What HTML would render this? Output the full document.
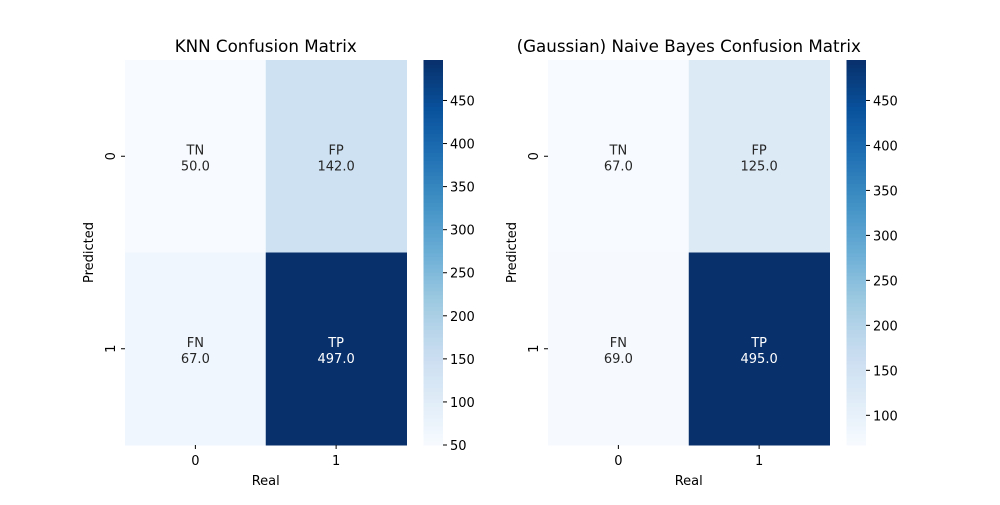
<!DOCTYPE html>
<html><head><meta charset="utf-8"><style>
body{margin:0;background:#fff;}
svg{font-family:"DejaVu Sans","Liberation Sans",sans-serif;}
</style></head><body>
<svg id="s" width="1000" height="500"></svg>
<script>
const labels=[["TN","FP"],["FN","TP"]];
const knnValues=[[50,142],[67,497]];
const nbValues=[[67,125],[69,495]];
const knnTicks=[50,100,150,200,250,300,350,400,450];
const nbTicks=[100,150,200,250,300,350,400,450];
const titles=["KNN Confusion Matrix","(Gaussian) Naive Bayes Confusion Matrix"];
const stops=["#f7fbff","#deebf7","#c6dbef","#9ecae1","#6baed6","#4292c6","#2171b5","#08519c","#08306b"];
function hx(c){return [1,3,5].map(i=>parseInt(c.substr(i,2),16));}
function cmap(t){t=Math.max(0,Math.min(1,t));const p=t*(stops.length-1),i=Math.min(Math.floor(p),stops.length-2),f=p-i;const a=hx(stops[i]),b=hx(stops[i+1]);return "rgb("+a.map((v,k)=>Math.round(v+(b[k]-v)*f)).join(",")+")";}
const S=document.getElementById('s'),NS="http://www.w3.org/2000/svg";
function el(t,a,txt){const e=document.createElementNS(NS,t);for(const k in a)e.setAttribute(k,a[k]);if(txt!==undefined)e.textContent=txt;S.appendChild(e);return e;}
function panel(x0,vals,ticks,title,idx){
  const W=281.5,H=385,y0=60,cw=W/2,ch=H/2;
  const flat=vals.flat(),mn=Math.min(...flat),mx=Math.max(...flat);
  const norm=v=>(v-mn)/(mx-mn);
  let e=el('text',{x:x0+W/2,y:52,'text-anchor':'middle','font-size':16.7,fill:'#000'},title);
  
  for(let r=0;r<2;r++)for(let c=0;c<2;c++){
    const v=vals[r][c],t=norm(v);
    e=el('rect',{x:x0+c*cw,y:y0+r*ch,width:cw+0.5,height:ch+0.5,fill:cmap(t)});
    
    const col=t>0.5?'#fff':'#262626';
    e=el('text',{x:x0+c*cw+cw/2,y:y0+r*ch+ch/2-2,'text-anchor':'middle','font-size':13,fill:col},labels[r][c]);
    
    e=el('text',{x:x0+c*cw+cw/2,y:y0+r*ch+ch/2+14,'text-anchor':'middle','font-size':13,fill:col},v.toFixed(1));
    
  }
  for(let i=0;i<2;i++){
    el('line',{x1:x0+cw*(i+.5),x2:x0+cw*(i+.5),y1:y0+H,y2:y0+H+4,stroke:'#000'});
    e=el('text',{x:x0+cw*(i+.5),y:y0+H+20,'text-anchor':'middle','font-size':13});
    e.textContent=String(i);
    
    el('line',{x1:x0-4,x2:x0,y1:y0+ch*(i+.5),y2:y0+ch*(i+.5),stroke:'#000'});
    const yy=y0+ch*(i+.5);
    e=el('text',{x:x0-10,y:yy,'text-anchor':'middle','font-size':13,transform:`rotate(-90 ${x0-10} ${yy})`},String(i));
    
  }
  e=el('text',{x:x0+W/2,y:485,'text-anchor':'middle','font-size':13},'Real');
  
  e=el('text',{x:x0-32,y:y0+H/2,'text-anchor':'middle','font-size':13,transform:`rotate(-90 ${x0-32} ${y0+H/2})`},'Predicted');
  
  const cx=x0+W+17,cwid=19.5,n=100;
  for(let k=0;k<n;k++){
    e=el('rect',{x:cx,y:y0+H-(k+1)*H/n,width:cwid,height:H/n+0.6,fill:cmap((k+0.5)/n)});
    
  }
  ticks.forEach(v=>{
    const y=y0+H-(v-mn)/(mx-mn)*H;
    el('line',{x1:cx+cwid,x2:cx+cwid+4,y1:y,y2:y,stroke:'#000'});
    e=el('text',{x:cx+cwid+7,y:y+5,'font-size':13},String(v));
    
  });
}
panel(125,knnValues,knnTicks,titles[0],'knn');
panel(548,nbValues,nbTicks,titles[1],'nb');
</script>
</body></html>
